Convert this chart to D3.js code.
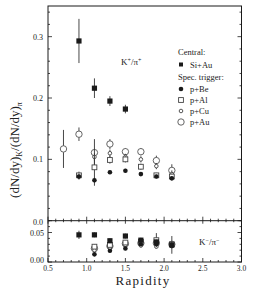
<!DOCTYPE html>
<html><head><meta charset="utf-8">
<script src="https://cdn.jsdelivr.net/npm/d3@7"></script>
<style>body{margin:0;background:#fff}svg{display:block}text{font-family:"Liberation Serif","DejaVu Serif",serif;fill:#222}</style>
</head><body>
<svg id="c" width="254" height="294"></svg>
<script>
const rapidity = [0.7, 0.9, 1.1, 1.3, 1.5, 1.7, 1.9, 2.1];
// K+/pi+ (upper panel)
const kpSiAu    = [null, 0.293, 0.216, 0.195, 0.182, null, null, null];
const kpSiAuErr = [null, 0.036, 0.016, 0.008, 0.007, null, null, null];
const kpBe      = [null, 0.072, 0.066, 0.079, 0.0815, 0.076, 0.072, 0.069];
const kpBeErr   = [null, 0.005, 0.004, 0.003, 0.003, 0.003, 0.003, 0.003];
const kpAl      = [null, 0.074, 0.087, 0.099, 0.100, 0.088, 0.074, 0.072];
const kpAlErr   = [null, 0.006, 0.030, 0.006, 0.005, 0.005, 0.004, 0.005];
const kpCu      = [null, null, 0.104, 0.110, 0.104, 0.100, 0.089, 0.076];
const kpCuErr   = [null, null, 0.006, 0.006, 0.005, 0.005, 0.005, 0.006];
const kpAu      = [0.117, 0.141, 0.111, 0.125, 0.1125, 0.1125, 0.098, 0.082];
const kpAuErr   = [0.031, 0.011, 0.022, 0.008, 0.006, 0.006, 0.008, 0.010];
// K-/pi- (lower panel)
const kmSiAu    = [null, 0.046, 0.046, 0.036, 0.044, 0.037, 0.034, 0.029];
const kmSiAuErr = [null, 0.007, 0.004, 0.004, 0.004, 0.004, 0.004, 0.015];
const kmBe      = [null, null, 0.013, 0.019, 0.023, 0.030, 0.030, 0.027];
const kmBeErr   = [null, null, 0.003, 0.003, 0.003, 0.003, 0.003, 0.004];
const kmAl      = [null, null, 0.026, 0.029, 0.033, 0.034, 0.037, 0.030];
const kmAlErr   = [null, null, 0.004, 0.004, 0.004, 0.004, 0.012, 0.005];
const kmCu      = [null, null, 0.020, 0.024, 0.029, 0.028, 0.026, 0.028];
const kmCuErr   = [null, null, 0.003, 0.003, 0.003, 0.003, 0.003, 0.004];
const kmAu      = [null, null, 0.023, 0.027, 0.031, 0.032, 0.032, 0.030];
const kmAuErr   = [null, null, 0.003, 0.003, 0.003, 0.003, 0.003, 0.004];

const xTicks = [0.5, 1.0, 1.5, 2.0, 2.5, 3.0];
const yTicksUpper = [0.0, 0.1, 0.2, 0.3];
const yTicksLower = [0.00, 0.05];
const legendNames = ["Si+Au", "p+Be", "p+Al", "p+Cu", "p+Au"];

const svg = d3.select("#c");
const L = 48, R = 241.5, T = 6, MID = 220.7, B = 262;
const x = d3.scaleLinear().domain([0.5, 3.0]).range([L, R]);
const yU = d3.scaleLinear().domain([0, 0.35]).range([MID, T]);
const yL = d3.scaleLinear().domain([0, 0.07]).range([B, MID]);

const ink = "#1a1a1a";
svg.append("rect").attr("x", L).attr("y", T).attr("width", R - L).attr("height", B - T)
  .attr("fill", "none").attr("stroke", ink).attr("stroke-width", 1);
svg.append("line").attr("x1", L).attr("x2", R).attr("y1", MID).attr("y2", MID)
  .attr("stroke", ink).attr("stroke-width", 1);

// x ticks
d3.range(0.5, 3.001, 0.1).forEach(v => {
  const major = Math.abs(v * 2 - Math.round(v * 2)) < 1e-6;
  const len = major ? 4 : 2;
  svg.append("line").attr("x1", x(v)).attr("x2", x(v)).attr("y1", B).attr("y2", B - len).attr("stroke", ink).attr("stroke-width", 0.8);
  svg.append("line").attr("x1", x(v)).attr("x2", x(v)).attr("y1", MID + (major ? 3 : 1.5)).attr("y2", MID - len).attr("stroke", ink).attr("stroke-width", 0.8);
});
svg.append("g").selectAll("text").data(xTicks).join("text")
  .attr("x", d => x(d)).attr("y", 270.5).attr("text-anchor", "middle")
  .attr("font-size", 7.5).text(d => d.toFixed(1));

// y ticks upper
d3.range(0, 0.3501, 0.02).forEach(v => {
  const major = Math.abs(v * 10 - Math.round(v * 10)) < 1e-6;
  const len = major ? 4 : 2;
  svg.append("line").attr("x1", L).attr("x2", L + len).attr("y1", yU(v)).attr("y2", yU(v)).attr("stroke", ink).attr("stroke-width", 0.8);
  svg.append("line").attr("x1", R).attr("x2", R - len).attr("y1", yU(v)).attr("y2", yU(v)).attr("stroke", ink).attr("stroke-width", 0.8);
});
svg.append("g").selectAll("text").data(yTicksUpper).join("text")
  .attr("x", 43).attr("y", d => yU(d) + (d === 0 ? 4.5 : 3)).attr("text-anchor", "end")
  .attr("font-size", 8).text(d => d.toFixed(1));
// y ticks lower
d3.range(0, 0.0701, 0.01).forEach(v => {
  const major = Math.abs(v * 20 - Math.round(v * 20)) < 1e-6;
  const len = major ? 4 : 2;
  svg.append("line").attr("x1", L).attr("x2", L + len).attr("y1", yL(v)).attr("y2", yL(v)).attr("stroke", ink).attr("stroke-width", 0.8);
  svg.append("line").attr("x1", R).attr("x2", R - len).attr("y1", yL(v)).attr("y2", yL(v)).attr("stroke", ink).attr("stroke-width", 0.8);
});
svg.append("g").selectAll("text").data(yTicksLower).join("text")
  .attr("x", 44).attr("y", d => yL(d) + (d === 0 ? 1 : 3)).attr("text-anchor", "end")
  .attr("font-size", 8).text(d => d.toFixed(2));

function marker(g, type, cx, cy) {
  if (type === "sq") g.append("rect").attr("x", cx - 2.6).attr("y", cy - 2.6).attr("width", 5.2).attr("height", 5.2).attr("fill", ink);
  else if (type === "dot") g.append("circle").attr("cx", cx).attr("cy", cy).attr("r", 2.3).attr("fill", ink);
  else if (type === "osq") g.append("rect").attr("x", cx - 2.4).attr("y", cy - 2.4).attr("width", 4.8).attr("height", 4.8).attr("fill", "#fff").attr("stroke", "#444").attr("stroke-width", 0.9);
  else if (type === "ocs") g.append("circle").attr("cx", cx).attr("cy", cy).attr("r", 1.8).attr("fill", "#fff").attr("stroke", "#444").attr("stroke-width", 0.9);
  else if (type === "oc") g.append("circle").attr("cx", cx).attr("cy", cy).attr("r", 3.2).attr("fill", "#fff").attr("stroke", "#555").attr("stroke-width", 0.9);
}
function series(vals, errs, ys, type) {
  const g = svg.append("g");
  rapidity.forEach((r, i) => {
    if (vals[i] == null) return;
    const e = errs[i] || 0;
    g.append("line").attr("x1", x(r)).attr("x2", x(r)).attr("y1", ys(vals[i] - e)).attr("y2", ys(vals[i] + e))
      .attr("stroke", "#333").attr("stroke-width", 0.9);
  });
  rapidity.forEach((r, i) => {
    if (vals[i] == null) return;
    marker(g, type, x(r), ys(vals[i]));
  });
}
series(kpAu, kpAuErr, yU, "oc");
series(kpCu, kpCuErr, yU, "ocs");
series(kpAl, kpAlErr, yU, "osq");
series(kpBe, kpBeErr, yU, "dot");
series(kpSiAu, kpSiAuErr, yU, "sq");
series(kmAu, kmAuErr, yL, "oc");
series(kmCu, kmCuErr, yL, "ocs");
series(kmAl, kmAlErr, yL, "osq");
series(kmBe, kmBeErr, yL, "dot");
series(kmSiAu, kmSiAuErr, yL, "sq");

const t1 = svg.append("text").attr("x", 121).attr("y", 65).attr("font-size", 9);
t1.append("tspan").text("K");
t1.append("tspan").attr("dy", -3).attr("font-size", 6).text("+");
t1.append("tspan").attr("dy", 3).text("/π");
t1.append("tspan").attr("dy", -3).attr("font-size", 6).text("+");
const t2 = svg.append("text").attr("x", 199).attr("y", 245).attr("font-size", 9);
t2.append("tspan").text("K");
t2.append("tspan").attr("dy", -3).attr("font-size", 6).text("−");
t2.append("tspan").attr("dy", 3).text("/π");
t2.append("tspan").attr("dy", -3).attr("font-size", 6).text("−");

const lg = svg.append("g");
lg.append("text").attr("x", 178).attr("y", 55).attr("font-size", 8.5).text("Central:");
lg.append("text").attr("x", 178).attr("y", 80).attr("font-size", 8.5).text("Spec. trigger:");
const legTypes = ["sq", "dot", "osq", "ocs", "oc"];
const legY = [64.5, 89, 100, 111, 122];
legendNames.forEach((n, i) => {
  const gg = lg.append("g");
  if (legTypes[i] === "sq") gg.append("rect").attr("x", 181 - 2).attr("y", legY[i] - 2).attr("width", 4).attr("height", 4).attr("fill", ink);
  else marker(gg, legTypes[i], 181, legY[i]);
  lg.append("text").attr("x", 190).attr("y", legY[i] + 3).attr("font-size", 8.5).text(n);
});

svg.append("text").attr("x", 143).attr("y", 285).attr("text-anchor", "middle")
  .attr("font-size", 13).attr("letter-spacing", 1.3).text("Rapidity");
const yl = svg.append("text").attr("transform", "translate(19,150) rotate(-90)")
  .attr("text-anchor", "middle").attr("font-size", 13);
yl.append("tspan").text("(dN/dy)");
yl.append("tspan").attr("dy", 3).attr("font-size", 8).text("K");
yl.append("tspan").attr("dy", -3).text("/(dN/dy)");
yl.append("tspan").attr("dy", 3).attr("font-size", 8).text("π");
</script>
</body></html>
